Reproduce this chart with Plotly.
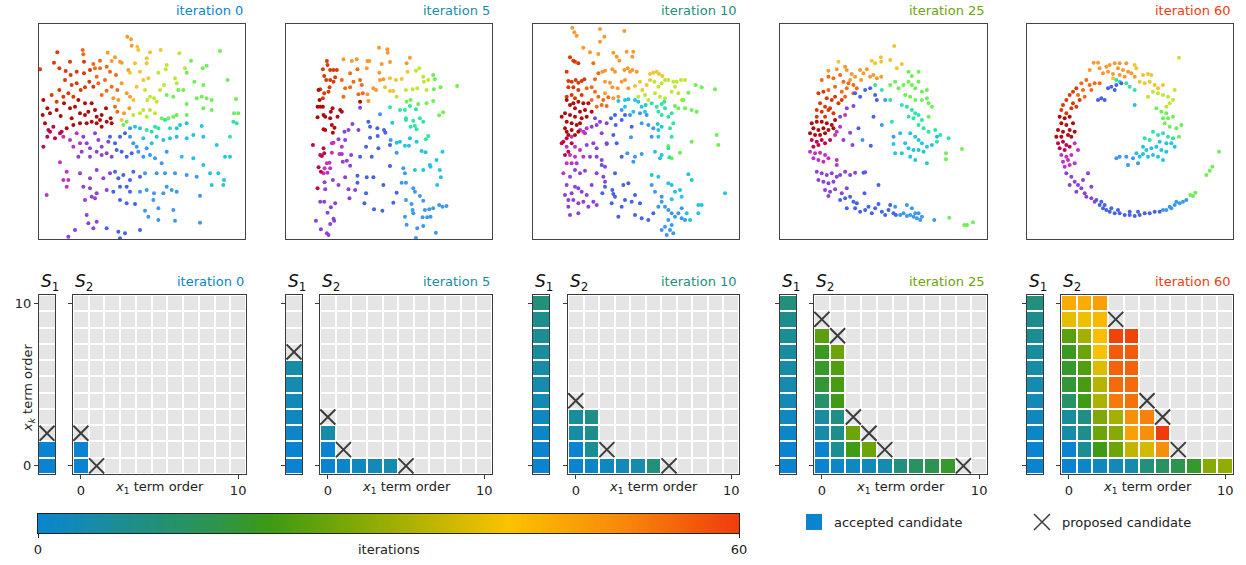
import plotly.graph_objects as go
from plotly.colors import sample_colorscale
import numpy as np

W, H = 1246, 565
FONT = "DejaVu Sans"

# ---------------- data ----------------
iterations = [0, 5, 10, 25, 60]
tick_orders = [0, 10]
n_orders = 11

# S1: iteration at which each x_k order (row 0..10) was accepted
s1_accepted_at = [0, 0, 1, 2, 3, 4, 5, 6, 7, 8, 10]
# S1: proposed row shown in each iteration panel
s1_proposed = [2, 7, None, None, None]

# S2: (x1 order, xk order, iteration accepted)
s2_accepted = [
    (0, 0, 0), (1, 0, 1), (2, 0, 2), (3, 0, 3), (4, 0, 4), (5, 0, 10), (6, 0, 13),
    (7, 0, 15), (8, 0, 18), (9, 0, 28), (10, 0, 29),
    (0, 1, 0), (0, 2, 5), (0, 3, 6), (0, 4, 12), (0, 5, 17), (0, 6, 18), (0, 7, 19),
    (0, 8, 23), (0, 9, 38), (0, 10, 44),
    (1, 1, 7), (1, 2, 8), (1, 3, 9), (1, 4, 20), (1, 5, 21), (1, 6, 22), (1, 7, 25),
    (1, 8, 31), (1, 9, 39), (1, 10, 44),
    (2, 1, 20), (2, 2, 25), (2, 3, 27), (2, 4, 32), (2, 5, 33), (2, 6, 37), (2, 7, 40),
    (2, 8, 41), (2, 9, 42), (2, 10, 46),
    (3, 1, 25), (3, 2, 28), (3, 3, 31), (3, 4, 52), (3, 5, 54), (3, 6, 55), (3, 7, 56), (3, 8, 59),
    (4, 1, 34), (4, 2, 46), (4, 3, 49), (4, 4, 53), (4, 5, 54), (4, 6, 55), (4, 7, 56), (4, 8, 59),
    (5, 1, 36), (5, 2, 49), (5, 3, 51),
    (6, 1, 49), (6, 2, 60),
]
# S2: proposed candidates (x1 order, xk order) per iteration panel
s2_proposed = [
    [(0, 2), (1, 0)],
    [(0, 3), (1, 1), (5, 0)],
    [(0, 4), (2, 1), (6, 0)],
    [(0, 9), (1, 8), (2, 3), (3, 2), (4, 1), (9, 0)],
    [(3, 9), (5, 4), (6, 3), (7, 1)],
]

# top-row sample clouds, grouped by hue band (coordinates in panel units, y downward)
pts_it0 = {
    "R0": [(40,300),(52,325),(60,340),(80,330),(92,348),(102,310),(120,325),(135,320),(150,340),(165,345),(175,335),(185,310),(200,350),(215,345),(228,325),(110,385),(130,375),(150,370),(170,370),(185,365),(200,370),(215,380),(230,365),(245,370),(242,355),(38,345),(45,370),(145,300),(165,310),(195,330),(125,355),(210,360)],
    "R1": [(30,208),(88,205),(107,213),(122,225),(140,215),(72,188),(120,185),(82,157),(65,285),(80,305),(88,270),(100,290),(115,280),(125,255),(140,250),(152,270),(165,262),(178,245),(190,260),(162,220),(180,210),(162,185),(105,240),(130,290)],
    "O1": [(158,150),(160,163),(190,192),(195,205),(210,205),(210,182),(205,250),(215,285),(230,272),(245,260),(230,200),(240,215),(258,225),(255,320),(262,335),(262,270),(200,230),(225,240)],
    "O2": [(233,158),(255,172),(245,183),(270,185),(275,188),(292,110),(303,118),(305,137),(275,250),(290,280),(300,290),(282,340),(298,325),(295,210),(265,300),(250,295)],
    "Y": [(322,140),(325,150),(315,190),(350,175),(350,190),(360,157),(392,150),(300,218),(340,240),(355,235),(320,260),(275,360),(330,215),(310,300)],
    "YG": [(385,218),(407,208),(410,195),(448,160),(345,270),(352,300),(360,290),(372,295),(380,305),(402,255),(310,345),(330,340),(340,330),(350,350),(360,330),(375,340),(435,235),(440,250),(465,205),(390,270)],
    "G": [(483,182),(518,205),(530,197),(570,153),(470,218),(493,245),(520,255),(593,240),(410,285),(430,290),(445,270),(460,270),(470,312),(500,295),(515,290),(530,295),(545,300),(618,297),(395,355),(415,355),(430,350),(440,345),(470,345),(520,325),(545,330),(612,340),(625,340),(280,375),(290,365)],
    "GA": [(365,395),(385,385),(350,390),(405,360),(420,385),(610,365),(620,370),(600,410),(375,380)],
    "C": [(315,380),(330,385),(440,385),(450,375),(470,370),(515,378),(420,415),(440,410),(470,415),(490,405),(520,410),(560,435),(455,470),(490,475),(520,495),(585,470),(600,470),(540,520),(565,520),(582,540),(545,555),(580,555),(340,415),(365,430),(380,410),(400,420)],
    "LB": [(300,385),(300,410),(310,430),(320,440),(350,445),(325,455),(340,470),(360,465),(375,475),(395,490),(410,455),(345,520),(380,520),(405,520),(435,520),(470,525),(500,530),(372,580),(400,580),(410,560),(425,570),(440,575),(510,587),(385,625),(430,630),(435,662),(510,668),(355,650),(385,660),(345,632),(330,575),(350,570),(370,600)],
    "B": [(255,430),(270,410),(285,400),(240,410),(260,450),(275,455),(290,470),(305,460),(280,525),(300,540),(310,515),(330,530),(270,560),(290,560),(300,575),(270,600),(290,610),(315,612),(265,695),(285,700),(330,690),(270,715),(230,685),(265,535),(250,575),(255,515)],
    "P": [(160,410),(170,430),(180,445),(195,400),(205,420),(215,440),(235,425),(145,470),(155,455),(180,470),(200,455),(215,465),(230,460),(245,470),(150,520),(180,535),(200,510),(220,535),(240,520),(160,560),(180,565),(200,580),(185,590),(230,570),(165,600),(195,595),(170,645),(200,665),(175,670),(190,685),(135,690),(115,710)],
    "M": [(100,410),(120,420),(140,400),(90,487),(110,515),(100,540),(115,540),(110,560),(50,585),(130,440),(150,430)],
    "CR": [(40,440),(52,410),(55,390),(75,415),(95,395),(90,400),(60,395),(70,380)],
}
pts_it5 = {
    "O2": [(297,143),(322,148),(323,158),(390,173),(380,190),(330,186),(305,192),(262,183),(268,183),(230,178),(215,183),(190,178),(260,205),(298,218),(300,240),(310,238),(280,265),(288,270),(262,283),(265,303)],
    "R1": [(140,183),(142,195),(128,208),(150,210),(160,210),(170,210),(132,228),(138,240),(150,240),(160,245),(165,232),(148,262),(120,268),(132,280),(128,295),(145,275)],
    "O1": [(185,240),(210,220),(220,245),(232,208),(240,240),(245,255),(195,265),(210,262),(190,290),(235,283),(248,280)],
    "Y": [(330,235),(348,240),(365,237),(383,215),(315,262),(330,273),(340,273)],
    "YG": [(408,212),(418,205),(430,230),(432,245),(445,240),(378,270),(398,268),(412,265),(440,270),(350,290)],
    "G": [(460,225),(465,238),(482,262),(532,258),(462,268),(380,305),(392,300),(415,312),(440,310),(460,303),(478,346),(490,337)],
    "GA": [(330,322),(360,330),(375,330),(390,318),(408,328),(378,355),(378,360),(400,362),(420,355),(430,365),(392,380),(405,378),(410,388),(445,408),(438,418)],
    "C": [(337,368),(410,425),(390,415),(350,428),(360,425),(375,437),(387,437),(425,453),(437,457),(488,455),(470,480),(450,495),(452,500),(480,510),(430,510),(405,510),(483,532),(472,555)],
    "LB": [(300,343),(332,420),(350,458),(370,505),(375,520),(365,548),(378,548),(400,565),(405,575),(420,588),(430,602),(378,600),(395,612),(398,630),(400,640),(375,650),(435,630),(448,628),(460,625),(478,615),(488,620),(500,618),(442,652),(428,652),(452,650),(380,674),(412,685),(430,678),(468,698),(408,714)],
    "B": [(265,365),(270,380),(292,385),(312,390),(316,398),(293,408),(270,413),(258,440),(295,445),(330,435),(275,470),(240,470),(330,498),(260,532),(280,532),(310,555),(232,548),(258,580),(350,578),(340,608),(253,610),(282,628),(307,632),(232,527)],
    "P": [(217,372),(205,390),(193,395),(235,390),(195,420),(175,418),(213,465),(185,462),(188,485),(200,482),(210,497),(195,532),(175,555),(205,568),(225,570),(208,595),(165,610),(152,622),(142,638),(160,656),(162,662),(150,672),(140,700),(145,705),(122,688),(107,662),(120,605),(132,605),(135,568),(158,540),(133,547),(240,323)],
    "M": [(155,430),(160,428),(185,440),(155,458),(178,462),(140,490),(148,488),(150,505),(142,518),(130,520),(133,505)],
    "CR": [(98,435),(130,445),(120,465),(125,468),(132,460),(115,502),(122,515),(112,565)],
    "R0": [(115,270),(118,300),(112,320),(120,320),(128,320),(112,352),(130,345),(135,350),(152,335),(157,325),(150,355),(180,330),(185,335),(172,350),(135,390),(130,388),(155,375),(163,383),(158,398),(240,305)],
}
pts_it10 = {
    "O2": [(142,83),(148,97),(155,107),(225,87),(238,110),(225,125),(298,93),(175,143),(195,157),(220,162),(265,158),(275,170),(283,182),(305,155),(325,155),(322,170),(232,215),(240,212),(262,208),(270,215),(298,210),(308,205),(315,215),(322,210),(335,215),(240,245),(255,248),(262,262),(278,265),(290,245),(300,240),(280,290),(265,295),(240,280),(310,265)],
    "R1": [(135,172),(145,182),(160,190),(150,185),(125,215),(130,243),(140,245),(152,240),(160,248),(170,243),(178,238),(130,262),(145,262),(160,270),(140,285),(125,290),(150,295),(170,285)],
    "O1": [(205,190),(185,265),(200,262),(210,275),(220,290),(235,300),(250,292),(200,300),(215,320),(230,315),(245,318),(210,238),(220,220)],
    "Y": [(330,258),(345,245),(352,270),(365,255),(375,222),(385,218),(395,215),(402,222),(412,228),(375,240)],
    "YG": [(340,290),(360,285),(388,245),(400,260),(410,250),(420,240),(430,240),(445,245),(455,245),(468,240),(480,240),(390,280),(405,290),(420,295),(440,275),(460,280),(470,300),(450,260),(370,300)],
    "G": [(512,255),(530,262),(570,268),(490,278),(475,300),(460,325),(450,318),(500,330),(515,335),(480,325),(575,405),(580,435),(500,425),(465,458),(440,475),(430,438)],
    "GA": [(380,310),(395,320),(410,312),(420,325),(400,335),(410,345),(430,350),(440,340),(418,305),(445,370),(435,385),(440,410),(430,445),(433,472)],
    "C": [(280,303),(300,300),(310,298),(330,300),(340,305),(350,320),(362,315),(300,320),(325,335),(360,335),(398,372),(400,390),(400,410),(410,380),(410,465),(405,475),(390,455),(400,530),(380,525),(430,550),(440,555),(450,575),(465,570),(470,590),(440,598),(485,640),(495,660),(490,523),(500,540),(600,580),(520,615),(530,615),(520,640)],
    "LB": [(290,330),(315,345),(345,340),(350,370),(365,345),(370,375),(385,385),(380,410),(318,412),(307,460),(330,470),(350,462),(325,485),(380,555),(390,575),(410,590),(410,605),(400,620),(420,620),(430,630),(440,640),(460,640),(450,650),(470,655),(430,660),(440,675),(420,680),(410,690),(435,690),(445,700),(425,705),(480,660),(470,625)],
    "B": [(270,345),(258,355),(272,375),(290,360),(300,345),(320,380),(265,405),(275,430),(245,430),(290,470),(230,495),(270,520),(295,555),(310,550),(240,560),(262,570),(270,590),(260,610),(300,600),(290,620),(280,650),(320,605),(345,610),(330,645),(350,655),(385,640),(370,660),(265,582),(232,580),(330,585)],
    "P": [(210,355),(225,365),(215,375),(200,380),(245,370),(230,400),(205,430),(185,435),(215,445),(245,432),(195,470),(215,470),(230,480),(240,500),(215,520),(235,530),(240,545),(180,512),(165,520),(150,510),(135,530),(125,555),(150,560),(160,565),(170,575),(185,585),(140,580),(120,585),(130,600),(145,600),(160,610),(175,605),(130,620),(160,640),(135,645),(190,620),(205,605),(215,615),(200,555)],
    "M": [(185,385),(175,395),(165,390),(140,410),(125,440),(150,440),(165,450),(135,465),(150,470),(175,470),(125,490),(140,490),(155,490),(115,520),(180,400)],
    "CR": [(115,425),(110,430),(125,415),(130,455),(120,465),(140,430)],
    "R0": [(125,300),(135,315),(145,310),(160,305),(175,310),(190,310),(150,325),(165,335),(180,330),(200,335),(120,340),(135,345),(150,350),(170,355),(185,350),(125,365),(140,370),(155,375),(165,370),(120,385),(140,390),(160,395),(130,405),(150,405),(125,395),(110,350)],
}
pts_it25 = {
    "Y": [(357,138),(317,172),(318,185),(290,182),(300,190),(345,180),(380,192),(365,205),(190,185)],
    "O2": [(160,212),(185,208),(210,200),(215,210),(230,222),(240,230),(255,210),(265,220),(275,208),(285,230),(295,225),(305,235),(318,230),(258,240),(225,240)],
    "O1": [(140,240),(160,230),(175,235),(195,225),(205,245),(220,250),(235,255),(180,260),(160,270),(200,275),(215,265),(245,265),(210,290),(235,280)],
    "R1": [(130,280),(145,275),(155,295),(170,300),(180,290),(190,310),(135,310),(150,320),(125,330),(140,335),(160,330),(175,340),(125,350),(150,350),(165,325),(200,300)],
    "R0": [(110,370),(125,365),(140,365),(155,370),(170,375),(180,360),(115,385),(130,390),(145,385),(160,390),(105,400),(120,405),(135,405),(150,400),(175,385)],
    "CR": [(110,420),(125,425),(140,420),(115,440),(130,435),(150,430),(165,420)],
    "M": [(105,455),(120,460),(135,458),(150,465),(115,475),(130,480),(145,485),(160,475),(185,480),(185,495),(195,380),(210,345),(185,395),(180,405)],
    "P": [(125,515),(140,520),(155,525),(170,520),(185,530),(130,540),(145,545),(160,550),(175,545),(195,525),(210,515),(225,525),(240,518),(270,517),(150,570),(165,575),(180,568),(160,588),(200,580),(215,565),(195,350),(215,325),(235,318),(205,420),(232,435),(225,398)],
    "B": [(195,600),(210,595),(225,590),(235,605),(245,610),(215,625),(240,625),(255,635),(270,630),(280,620),(290,640),(300,625),(310,612),(320,635),(330,645),(340,630),(345,615),(355,640),(362,645),(240,280),(255,290),(270,270),(285,265),(300,285),(305,300),(250,385),(287,437),(265,518),(310,555),(268,580),(295,350)],
    "LB": [(360,620),(375,645),(385,640),(395,648),(405,645),(415,650),(425,655),(435,660),(395,615),(410,625),(420,640),(430,640),(440,650),(477,660),(320,375),(330,300),(355,410),(262,420)],
    "G": [(522,653),(567,675),(575,675),(593,667),(512,478),(512,460),(560,447),(345,255),(360,245),(370,265),(385,255),(400,245),(410,255),(420,265),(430,245),(440,275),(455,295),(460,310),(470,320),(390,285),(405,290),(420,300),(440,300),(455,270),(430,215),(410,228),(400,215),(460,350)],
    "GA": [(345,300),(380,315),(395,320),(410,330),(420,340),(430,345),(400,350),(415,355),(440,360),(430,375),(445,385),(460,395),(350,365),(480,390),(495,405),(520,415),(485,425),(300,255),(320,270)],
    "C": [(405,400),(420,410),(430,420),(440,430),(455,440),(470,435),(390,430),(400,445),(415,450),(430,450),(445,455),(380,460),(405,470),(420,480),(455,490),(360,460),(375,400),(355,432),(485,410)],
}
pts_it60 = {
    "O2": [(222,188),(235,188),(210,210),(240,205),(260,200),(270,195),(285,190),(300,190),(320,190),(295,205),(310,210),(325,215),(335,220),(250,220),(265,215),(280,222),(300,225),(345,230),(315,230)],
    "Y": [(345,195),(350,205),(370,225),(385,222),(395,225),(360,245),(375,250),(390,245),(405,255),(415,265),(430,255),(280,235)],
    "YG": [(400,275),(415,280),(430,285),(445,290),(385,290),(450,310),(460,300),(465,270),(440,320),(478,173)],
    "G": [(410,325),(425,335),(440,340),(445,355),(460,350),(430,355),(435,370),(450,380),(470,385),(485,375),(478,410),(512,585),(527,578),(520,588),(560,525),(570,512),(578,500),(598,455)],
    "GA": [(400,395),(415,405),(430,400),(445,410),(460,415),(375,415),(390,420),(290,240),(300,245),(320,250),(330,260),(345,270)],
    "C": [(420,425),(440,430),(455,430),(465,440),(370,440),(380,450),(395,445),(410,440),(425,450),(440,455),(400,465),(415,470),(430,480),(345,315),(350,460),(360,470),(385,470),(370,462)],
    "LB": [(340,475),(320,470),(300,470),(290,475),(325,495),(355,490),(430,630),(440,630),(450,620),(465,615),(480,610),(490,605),(500,600),(455,625),(470,605)],
    "B": [(265,265),(275,260),(290,255),(305,250),(285,270),(245,295),(255,300),(235,300),(230,600),(240,615),(250,625),(260,630),(270,635),(285,640),(300,640),(315,645),(330,645),(345,648),(360,645),(375,640),(390,640),(405,635),(420,635),(255,615),(245,605),(295,630),(330,635),(275,625),(355,635)],
    "O1": [(200,240),(185,250),(210,255),(225,250),(240,250),(195,290),(215,270),(190,270),(175,285)],
    "R1": [(170,265),(160,275),(150,285),(140,300),(130,315),(180,300),(160,310),(125,330),(140,340),(155,325),(170,320)],
    "R0": [(120,350),(135,355),(150,350),(125,370),(140,375),(115,390),(130,395),(150,390),(160,370),(110,410),(125,410),(145,405),(165,395),(155,410)],
    "CR": [(115,430),(130,425),(140,435),(120,445),(135,450),(150,440)],
    "M": [(125,465),(140,470),(130,485),(145,480),(155,465),(135,500),(150,495),(165,490),(175,450),(165,430)],
    "P": [(140,520),(155,530),(165,545),(150,555),(175,555),(185,565),(170,575),(195,580),(205,520),(200,590),(215,595),(190,540),(215,560),(225,605)],
}
top_points = [pts_it0, pts_it5, pts_it10, pts_it25, pts_it60]

# ---------------- styles ----------------
hue_colors = {
    "R0": "#b00a0a", "R1": "#d83a08", "O1": "#f06a18", "O2": "#f89a30",
    "Y": "#eec634", "YG": "#bce834", "G": "#6cf054", "GA": "#2ee4a4",
    "C": "#22c4e0", "LB": "#3c98f2", "B": "#4662e6", "P": "#8a42d8",
    "M": "#c232c0", "CR": "#c0064c",
}
iter_colorscale = [
    [0.0, "#0a84d0"], [0.08, "#168ca8"], [0.17, "#229078"], [0.25, "#2c9450"],
    [0.33, "#3d9a14"], [0.5, "#9aae00"], [0.67, "#fbc200"], [0.83, "#f88a0a"],
    [1.0, "#f03c0c"],
]
GREY_CELL = "#e5e5e5"
FRAME = "#3a3a3a"
X_COLOR = "#3c3c3c"
ITER_MAX = 60

top_x_px = [(39, 245), (286, 492), (533, 739), (780, 987), (1027, 1233)]
top_y_px = (24, 239)
top_frames = [(27, 645), (17, 637), (24, 642), (15, 635), (22, 640)]
top_frame_y = (72, 717)
s1_x_px = [(39, 55), (286, 302), (533, 549), (780, 796), (1027, 1043)]
s2_x_px = [(73, 246), (320, 492), (568, 739), (814, 987), (1061, 1233)]
grid_y_px = (295, 474)
cbar_x_px = (38, 739)
cbar_y_px = (514, 533)


def xdom(a, b):
    return [a / W, b / W]


def ydom(top, bottom):
    return [1 - bottom / H, 1 - top / H]


def iter_color(it):
    return sample_colorscale(iter_colorscale, [it / ITER_MAX])[0]


fig = go.Figure()
layout_axes = {}
counter = [0]


def new_axes(xd, yd, xopt, yopt):
    counter[0] += 1
    k = counter[0]
    xn = "xaxis" if k == 1 else f"xaxis{k}"
    yn = "yaxis" if k == 1 else f"yaxis{k}"
    xr = "x" if k == 1 else f"x{k}"
    yr = "y" if k == 1 else f"y{k}"
    base = dict(showgrid=False, zeroline=False, showline=True, mirror=True,
                linecolor=FRAME, linewidth=1, ticks="", showticklabels=False,
                fixedrange=True, automargin=False)
    bx = dict(base); bx.update(xopt); bx.update(domain=xd, anchor=yr)
    by = dict(base); by.update(yopt); by.update(domain=yd, anchor=xr)
    layout_axes[xn] = bx
    layout_axes[yn] = by
    return xr, yr


tick_style = dict(ticks="outside", ticklen=4, tickwidth=1, tickcolor=FRAME,
                  tickvals=tick_orders, tickfont=dict(size=13, color="#222"))

annotations = []
x_marker = dict(symbol="x-thin-open", size=15, color=X_COLOR, line=dict(width=2, color=X_COLOR))

for i, it in enumerate(iterations):
    # ---- top scatter ----
    xr, yr = new_axes(xdom(*top_x_px[i]), ydom(*top_y_px),
                      dict(range=list(top_frames[i]), linewidth=1.3, linecolor="#444"),
                      dict(range=[top_frame_y[1], top_frame_y[0]], linewidth=1.3, linecolor="#444"))
    xs, ys, cs = [], [], []
    for band, pts in top_points[i].items():
        for (px_, py_) in pts:
            xs.append(px_); ys.append(py_); cs.append(hue_colors[band])
    fig.add_trace(go.Scatter(x=xs, y=ys, mode="markers", xaxis=xr, yaxis=yr,
                             marker=dict(size=4, color=cs, line=dict(width=0)),
                             showlegend=False, hoverinfo="skip"))
    annotations.append(dict(text=f"iteration {it}", x=top_x_px[i][1] / W, y=1 - 11 / H,
                            xref="paper", yref="paper", xanchor="right", yanchor="middle",
                            showarrow=False, font=dict(size=13, color=iter_color(it))))

    # ---- S1 strip ----
    s1y = dict(range=[-0.5, 10.5]); s1y.update(tick_style)
    s1y["showticklabels"] = (i == 0)
    xr1, yr1 = new_axes(xdom(*s1_x_px[i]), ydom(*grid_y_px),
                        dict(range=[-0.5, 0.5]), s1y)
    fig.add_trace(go.Heatmap(x=[0], y=list(range(n_orders)), z=[[1] for _ in range(n_orders)],
                             colorscale=[[0, GREY_CELL], [1, GREY_CELL]], showscale=False,
                             ygap=2, xaxis=xr1, yaxis=yr1, hoverinfo="skip"))
    z1 = [[v if v <= it else None] for v in s1_accepted_at]
    fig.add_trace(go.Heatmap(x=[0], y=list(range(n_orders)), z=z1, colorscale=iter_colorscale,
                             zmin=0, zmax=ITER_MAX, showscale=False, ygap=2,
                             xaxis=xr1, yaxis=yr1, hoverinfo="skip"))
    if s1_proposed[i] is not None:
        fig.add_trace(go.Scatter(x=[0], y=[s1_proposed[i]], mode="markers", xaxis=xr1, yaxis=yr1,
                                 marker=x_marker, showlegend=False, hoverinfo="skip"))

    # ---- S2 grid ----
    s2x = dict(range=[-0.5, 10.5]); s2x.update(tick_style); s2x["showticklabels"] = True
    s2y = dict(range=[-0.5, 10.5]); s2y.update(tick_style); s2y["showticklabels"] = False
    xr2, yr2 = new_axes(xdom(*s2_x_px[i]), ydom(*grid_y_px), s2x, s2y)
    fig.add_trace(go.Heatmap(x=list(range(n_orders)), y=list(range(n_orders)),
                             z=[[1] * n_orders for _ in range(n_orders)],
                             colorscale=[[0, GREY_CELL], [1, GREY_CELL]], showscale=False,
                             xgap=2, ygap=2, xaxis=xr2, yaxis=yr2, hoverinfo="skip"))
    z2 = [[None] * n_orders for _ in range(n_orders)]
    for (a, b, acc) in s2_accepted:
        if acc <= it:
            z2[b][a] = acc
    fig.add_trace(go.Heatmap(x=list(range(n_orders)), y=list(range(n_orders)), z=z2,
                             colorscale=iter_colorscale, zmin=0, zmax=ITER_MAX, showscale=False,
                             xgap=2, ygap=2, xaxis=xr2, yaxis=yr2, hoverinfo="skip"))
    fig.add_trace(go.Scatter(x=[p[0] for p in s2_proposed[i]], y=[p[1] for p in s2_proposed[i]],
                             mode="markers", xaxis=xr2, yaxis=yr2, marker=x_marker,
                             showlegend=False, hoverinfo="skip"))

    annotations.append(dict(text=f"iteration {it}", x=s2_x_px[i][1] / W, y=1 - 281 / H,
                            xref="paper", yref="paper", xanchor="right", yanchor="middle",
                            showarrow=False, font=dict(size=13, color=iter_color(it))))
    annotations.append(dict(text="<i>S</i><sub>1</sub>", x=s1_x_px[i][0] / W, y=1 - 282 / H,
                            xref="paper", yref="paper", xanchor="left", yanchor="middle",
                            showarrow=False, font=dict(size=17, color="#111")))
    annotations.append(dict(text="<i>S</i><sub>2</sub>", x=s2_x_px[i][0] / W, y=1 - 282 / H,
                            xref="paper", yref="paper", xanchor="left", yanchor="middle",
                            showarrow=False, font=dict(size=17, color="#111")))
    annotations.append(dict(text="<i>x</i><sub>1</sub> term order",
                            x=(s2_x_px[i][0] + s2_x_px[i][1]) / 2 / W, y=1 - 487 / H,
                            xref="paper", yref="paper", xanchor="center", yanchor="middle",
                            showarrow=False, font=dict(size=13, color="#222")))

annotations.append(dict(text="<i>x<sub>k</sub></i> term order", x=28 / W, y=1 - 388 / H,
                        xref="paper", yref="paper", xanchor="center", yanchor="middle",
                        textangle=-90, showarrow=False, font=dict(size=13, color="#222")))

# ---- colorbar strip ----
cb_vals = np.linspace(0, ITER_MAX, 241)
xrc, yrc = new_axes(xdom(*cbar_x_px), ydom(*cbar_y_px),
                    dict(range=[0, ITER_MAX], ticks="outside", ticklen=4, tickcolor="#222",
                         tickvals=[0, ITER_MAX], showticklabels=True, linecolor="#222",
                         tickfont=dict(size=13, color="#222")),
                    dict(range=[-0.5, 0.5], linecolor="#222"))
fig.add_trace(go.Heatmap(x=cb_vals, y=[0], z=[cb_vals], colorscale=iter_colorscale,
                         zmin=0, zmax=ITER_MAX, showscale=False, xaxis=xrc, yaxis=yrc,
                         hoverinfo="skip"))
annotations.append(dict(text="iterations", x=389 / W, y=1 - 549 / H, xref="paper", yref="paper",
                        xanchor="center", yanchor="middle", showarrow=False,
                        font=dict(size=13, color="#222")))

# ---- legend entries ----
fig.add_trace(go.Scatter(x=[None], y=[None], mode="markers", name="accepted candidate",
                         xaxis=xrc, yaxis=yrc,
                         marker=dict(symbol="square", size=16, color=iter_color(0))))
fig.add_trace(go.Scatter(x=[None], y=[None], mode="markers", name="proposed candidate",
                         xaxis=xrc, yaxis=yrc,
                         marker=dict(symbol="x-thin-open", size=16, color=X_COLOR,
                                     line=dict(width=1.5, color=X_COLOR))))

fig.update_layout(**layout_axes)
fig.update_layout(
    width=W, height=H, margin=dict(l=0, r=0, t=0, b=0, pad=0, autoexpand=False),
    paper_bgcolor="white", plot_bgcolor="white",
    font=dict(family=FONT, size=13, color="#222"),
    annotations=annotations,
    showlegend=True,
    legend=dict(orientation="h", x=794 / W, y=1 - 522 / H, xanchor="left", yanchor="middle",
                font=dict(size=13, color="#222"), entrywidth=183, entrywidthmode="pixels",
                bgcolor="rgba(0,0,0,0)", itemclick=False, itemdoubleclick=False),
)

fig.write_html("out.html", config={"displayModeBar": False, "staticPlot": True},
               post_script="document.body.style.margin='0';document.body.style.overflow='hidden';")
